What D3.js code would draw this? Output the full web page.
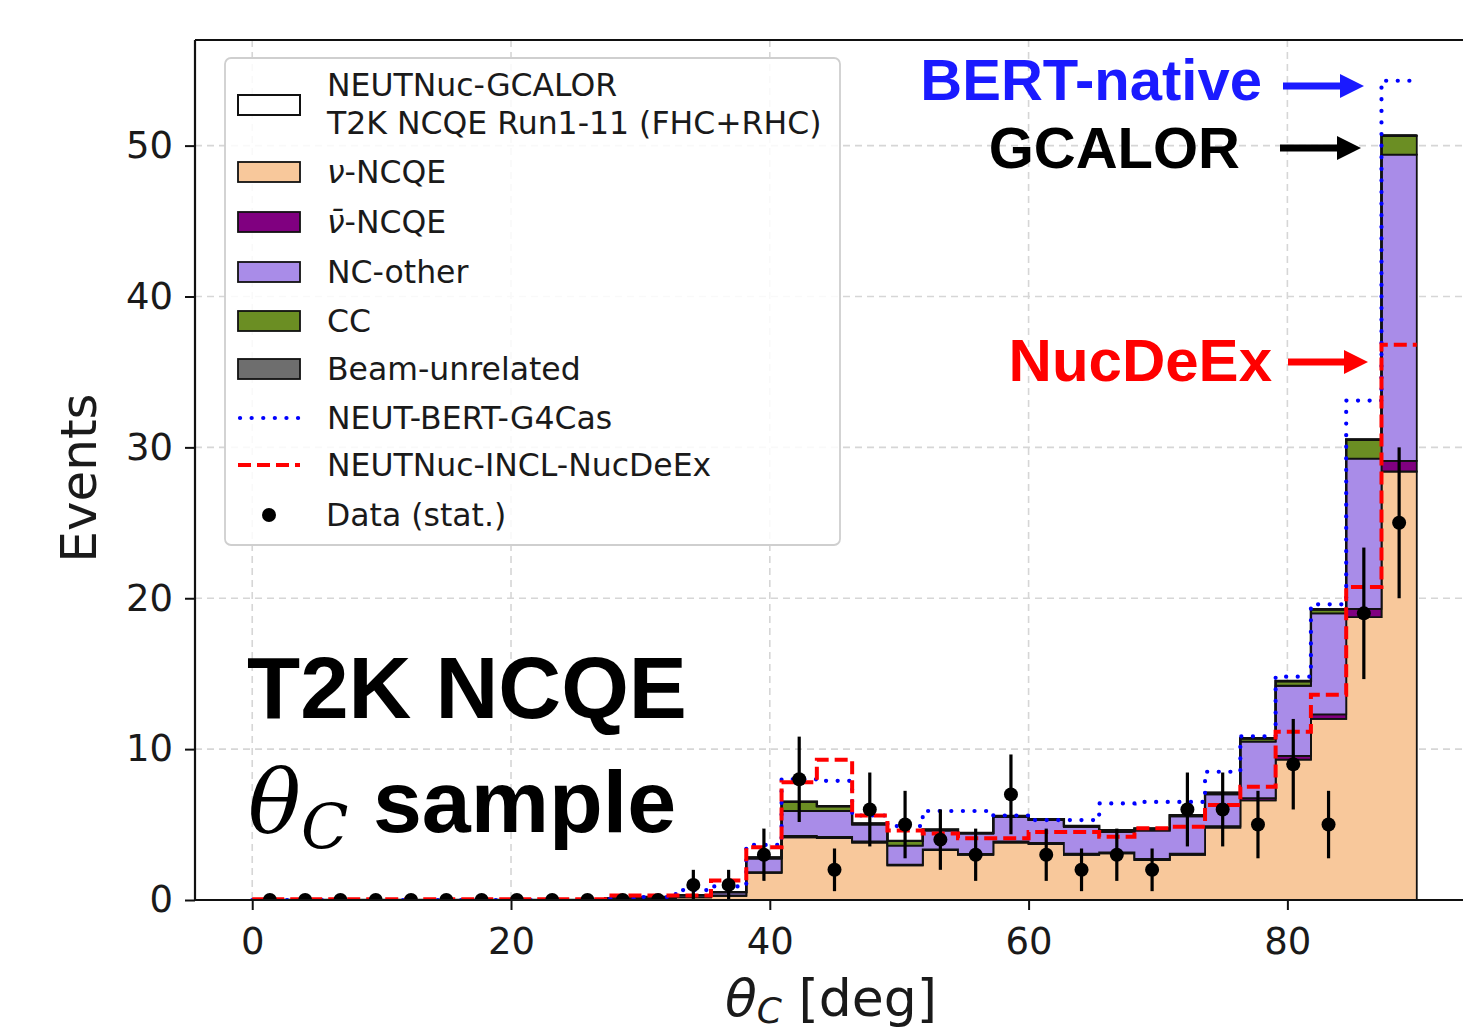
<!DOCTYPE html>
<html>
<head>
<meta charset="utf-8">
<script src="https://cdn.jsdelivr.net/npm/d3@7"></script>
<style>
body { margin: 0; background: #fff; }
text { font-family: "DejaVu Sans", sans-serif; fill: #1a1a1a; }
</style>
</head>
<body>
<div id="chart"></div>
<script>
// theta_C histogram, 33 bins over 0-90 deg
var nBins = 33, thetaMax = 90;

var dataCounts = [0,0,0,0,0,0,0,0,0,0,0,0,1,1,3,8,2,6,5,4,3,7,3,2,3,2,6,6,5,9,5,19,25];

// NEUTNuc-GCALOR stack components
var nuNCQE    = [0,0,0,0,0,0,0,0,0,0,0.05,0.1,0.18,0.28,1.8,4.15,4.1,3.8,2.3,3.3,3.0,3.8,3.7,3.0,3.1,2.65,3.0,4.8,6.6,9.3,12.0,18.75,28.4];
var nubarNCQE = [0,0,0,0,0,0,0,0,0,0,0,0,0.01,0.02,0.05,0.1,0.08,0.08,0.05,0.05,0.05,0.08,0.08,0.08,0.05,0.08,0.08,0.1,0.15,0.25,0.3,0.55,0.7];
var ncOther   = [0,0,0,0,0,0,0,0,0,0,0.05,0.1,0.13,0.2,0.9,1.65,1.72,1.12,1.25,1.25,1.35,1.62,1.52,1.77,1.35,1.87,2.47,2.1,3.75,4.65,6.7,9.95,20.3];
var ccEvents  = [0,0,0,0,0,0,0,0,0,0,0,0,0,0.02,0.05,0.6,0.3,0.05,0.3,0.05,0.03,0.05,0.03,0.03,0.1,0.12,0.05,0.1,0.2,0.3,0.25,1.25,1.25];
var beamUnrel = [0,0,0,0,0,0,0,0,0,0,0,0,0,0,0.02,0.02,0.02,0.02,0.02,0.02,0.02,0.02,0.02,0.02,0.02,0.02,0.02,0.02,0.02,0.02,0.02,0.02,0.02];

// alternative models (totals)
var bertG4Cas = [0,0,0,0,0,0,0,0,0,0,0.1,0.2,0.66,0.9,3.65,8.0,7.9,5.6,4.9,5.9,5.9,5.6,5.3,5.3,6.4,6.5,6.5,8.5,10.85,14.8,19.6,33.1,54.3];
var inclNucDeEx = [0.05,0.05,0.05,0.05,0.05,0.05,0.05,0.05,0.05,0.05,0.3,0.3,0.3,1.3,3.5,7.8,9.3,5.6,4.6,4.4,4.1,4.1,4.5,4.5,4.2,4.75,4.85,6.3,7.5,11.15,13.6,20.75,36.8];

var yTicks = [0,10,20,30,40,50];
var xTicks = [0,20,40,60,80];

var layerKeys   = ["nuNCQE","nubarNCQE","ncOther","cc","beam"];
// [math part, plain part]
var layerNames  = [["\u03bd","-NCQE"],["\u03bd\u0304","-NCQE"],["","NC-other"],["","CC"],["","Beam-unrelated"]];
var layerColors = ["#f8c89b","#800080","#a98ce8","#6b8e23","#6e6e6e"];

var W = 1463, H = 1030;
var plot = {left: 195, top: 40, right: 1476, bottom: 900};

var x = d3.scaleLinear().domain([-4.5, 94.5]).range([194, 1475]);
var y = d3.scaleLinear().domain([0, 57]).range([900, 40]);

var edges = d3.range(nBins + 1).map(function(i) { return i * thetaMax / nBins; });
var centers = d3.range(nBins).map(function(i) { return (edges[i] + edges[i + 1]) / 2; });

var svg = d3.select("#chart").append("svg")
    .attr("width", W)
    .attr("height", H);

svg.append("defs").append("clipPath")
    .attr("id", "plotclip")
    .append("rect")
    .attr("x", plot.left).attr("y", plot.top)
    .attr("width", plot.right - plot.left)
    .attr("height", plot.bottom - plot.top);

// grid
var grid = svg.append("g").attr("class", "grid");
grid.selectAll(".hgrid").data(yTicks.slice(1)).enter().append("line")
    .attr("x1", plot.left).attr("x2", W)
    .attr("y1", function(d) { return y(d); })
    .attr("y2", function(d) { return y(d); })
    .style("stroke", "#d6d6d6").style("stroke-width", 1.6)
    .style("stroke-dasharray", "7,5");
grid.selectAll(".vgrid").data(xTicks).enter().append("line")
    .attr("x1", function(d) { return x(d); })
    .attr("x2", function(d) { return x(d); })
    .attr("y1", plot.top).attr("y2", plot.bottom)
    .style("stroke", "#d6d6d6").style("stroke-width", 1.6)
    .style("stroke-dasharray", "7,5");

var rows = d3.range(nBins).map(function(i) {
    return {nuNCQE: nuNCQE[i], nubarNCQE: nubarNCQE[i], ncOther: ncOther[i],
            cc: ccEvents[i], beam: beamUnrel[i]};
});
var stacked = d3.stack().keys(layerKeys)(rows);

var area = d3.area()
    .curve(d3.curveStepAfter)
    .x(function(d) { return x(d.x); })
    .y0(function(d) { return y(d.y0); })
    .y1(function(d) { return y(d.y1); });

function stepPoints(layer) {
    var pts = layer.map(function(d, i) { return {x: edges[i], y0: d[0], y1: d[1]}; });
    var last = layer[layer.length - 1];
    pts.push({x: edges[nBins], y0: last[0], y1: last[1]});
    return pts;
}

var histG = svg.append("g").attr("clip-path", "url(#plotclip)");

histG.selectAll(".layer")
    .data(stacked)
    .enter().append("path")
    .attr("class", "layer")
    .attr("d", function(layer) { return area(stepPoints(layer)); })
    .style("fill", function(d, i) { return layerColors[i]; })
    .style("stroke", "#111")
    .style("stroke-width", 1.8)
    .style("stroke-linejoin", "miter");

var step = d3.line()
    .curve(d3.curveStepAfter)
    .x(function(d) { return x(d.x); })
    .y(function(d) { return y(d.v); });

function linePoints(vals) {
    var pts = vals.map(function(v, i) { return {x: edges[i], v: v}; });
    pts.push({x: edges[nBins], v: vals[vals.length - 1]});
    return pts;
}

// total outline
var totals = rows.map(function(r) { return r.nuNCQE + r.nubarNCQE + r.ncOther + r.cc + r.beam; });
histG.append("path")
    .attr("d", step(linePoints(totals)))
    .style("fill", "none").style("stroke", "#111").style("stroke-width", 2.4);

histG.append("path")
    .attr("d", step(linePoints(bertG4Cas)))
    .style("fill", "none").style("stroke", "#0000ff").style("stroke-width", 4.2)
    .style("stroke-linecap", "round").style("stroke-dasharray", "0.1,11.5");

histG.append("path")
    .attr("d", step(linePoints(inclNucDeEx)))
    .style("fill", "none").style("stroke", "#ff0000").style("stroke-width", 4)
    .style("stroke-dasharray", "13,6");

// data points with stat. errors
var pts = histG.selectAll(".dpt")
    .data(dataCounts)
    .enter().append("g")
    .attr("class", "dpt");
pts.append("line")
    .attr("x1", function(d, i) { return x(centers[i]); })
    .attr("x2", function(d, i) { return x(centers[i]); })
    .attr("y1", function(d) { return y(d - Math.sqrt(d)); })
    .attr("y2", function(d) { return y(d + Math.sqrt(d)); })
    .style("stroke", "#000").style("stroke-width", 3.2);
pts.append("circle")
    .attr("cx", function(d, i) { return x(centers[i]); })
    .attr("cy", function(d) { return y(d); })
    .attr("r", 7)
    .style("fill", "#000");

// axes
var yAxis = d3.axisLeft(y).tickValues(yTicks).tickSize(10).tickPadding(12);
var xAxis = d3.axisBottom(x).tickValues(xTicks).tickSize(10).tickPadding(18);

var gy = svg.append("g").attr("transform", "translate(" + plot.left + ",0)").call(yAxis);
var gx = svg.append("g").attr("transform", "translate(0," + plot.bottom + ")").call(xAxis);
[gx, gy].forEach(function(g) {
    g.select(".domain").remove();
    g.selectAll(".tick line").style("stroke", "#111").style("stroke-width", 2);
    g.selectAll(".tick text").style("font-size", "37px").style("fill", "#1a1a1a")
        .style("font-family", "'DejaVu Sans', sans-serif");
});

// spines
svg.append("line").attr("x1", plot.left).attr("x2", plot.left).attr("y1", plot.top).attr("y2", plot.bottom)
    .style("stroke", "#111").style("stroke-width", 2.2);
svg.append("line").attr("x1", plot.left).attr("x2", W).attr("y1", plot.bottom).attr("y2", plot.bottom)
    .style("stroke", "#111").style("stroke-width", 2.2);
svg.append("line").attr("x1", plot.left).attr("x2", W).attr("y1", plot.top).attr("y2", plot.top)
    .style("stroke", "#111").style("stroke-width", 2.2);

// axis labels
svg.append("text")
    .attr("transform", "translate(96,478) rotate(-90)")
    .style("text-anchor", "middle")
    .style("font-size", "50px")
    .text("Events");

var xl = svg.append("text")
    .attr("x", 725).attr("y", 1016)
    .style("font-size", "52px");
xl.append("tspan").style("font-style", "italic").text("\u03b8");
xl.append("tspan").style("font-style", "italic").style("font-size", "36px").attr("dy", 7).text("C");
xl.append("tspan").attr("dy", -7).text(" [deg]");

// legend
var lg = svg.append("g").attr("transform", "translate(225,58)");
lg.append("rect")
    .attr("width", 615).attr("height", 487)
    .attr("rx", 6).attr("ry", 6)
    .style("fill", "#fff").style("fill-opacity", 0.85)
    .style("stroke", "#cfcfcf").style("stroke-width", 1.8);

var hx = 13, hw = 62, hh = 20, tx = 102;
lg.append("rect").attr("x", hx).attr("y", 37).attr("width", hw).attr("height", hh)
    .style("fill", "#fff").style("stroke", "#111").style("stroke-width", 2);
lg.append("text").attr("x", tx).attr("y", 27).attr("dy", "0.35em").style("font-size", "31.5px").text("NEUTNuc-GCALOR");
lg.append("text").attr("x", tx).attr("y", 65).attr("dy", "0.35em").style("font-size", "31.5px").text("T2K NCQE Run1-11 (FHC+RHC)");

var rowY = [114, 164, 214, 263, 311];
layerNames.forEach(function(name, i) {
    lg.append("rect").attr("x", hx).attr("y", rowY[i] - hh / 2).attr("width", hw).attr("height", hh)
        .style("fill", layerColors[i]).style("stroke", "#111").style("stroke-width", 1.8);
    var t = lg.append("text").attr("x", tx).attr("y", rowY[i]).attr("dy", "0.35em").style("font-size", "31.5px");
    if (name[0]) t.append("tspan").style("font-style", "italic").text(name[0]);
    t.append("tspan").text(name[1]);
});

lg.append("line").attr("x1", hx + 2).attr("x2", hx + hw).attr("y1", 360).attr("y2", 360)
    .style("stroke", "#0000ff").style("stroke-width", 4.2)
    .style("stroke-linecap", "round").style("stroke-dasharray", "0.1,11.5");
lg.append("text").attr("x", tx).attr("y", 360).attr("dy", "0.35em").style("font-size", "31.5px").text("NEUT-BERT-G4Cas");

lg.append("line").attr("x1", hx).attr("x2", hx + hw).attr("y1", 407).attr("y2", 407)
    .style("stroke", "#ff0000").style("stroke-width", 4).style("stroke-dasharray", "13,6");
lg.append("text").attr("x", tx).attr("y", 407).attr("dy", "0.35em").style("font-size", "31.5px").text("NEUTNuc-INCL-NucDeEx");

lg.append("circle").attr("cx", hx + hw / 2).attr("cy", 457).attr("r", 7).style("fill", "#000");
lg.append("text").attr("x", tx - 1).attr("y", 457).attr("dy", "0.35em").style("font-size", "31.5px").text("Data (stat.)");

// sample title
svg.append("text")
    .attr("x", 247).attr("y", 718)
    .style("font-family", "'Liberation Sans', Arial, sans-serif")
    .style("font-weight", "bold").style("font-size", "87px").style("fill", "#000")
    .text("T2K NCQE");
var st = svg.append("text")
    .attr("x", 248).attr("y", 832)
    .style("font-size", "88px").style("fill", "#000");
st.append("tspan").style("font-family", "'DejaVu Serif', serif").style("font-style", "italic").text("\u03b8");
st.append("tspan").style("font-family", "'DejaVu Serif', serif").style("font-style", "italic")
    .style("font-size", "62px").attr("dy", 16).text("C");
st.append("tspan").attr("dy", -16)
    .style("font-family", "'Liberation Sans', Arial, sans-serif").style("font-weight", "bold")
    .text(" sample");

// model annotations with arrows
var notes = [
    {label: "BERT-native", color: "#1a1aff", size: 58, tx: 1262, ty: 100, ax0: 1283, ax1: 1364, ay: 86},
    {label: "GCALOR",      color: "#000",    size: 58, tx: 1240, ty: 168, ax0: 1280, ax1: 1361, ay: 148},
    {label: "NucDeEx",     color: "#ff0000", size: 60, tx: 1272, ty: 381, ax0: 1288, ax1: 1368, ay: 362}
];
notes.forEach(function(n) {
    svg.append("text")
        .attr("x", n.tx).attr("y", n.ty)
        .style("text-anchor", "end")
        .style("font-family", "'Liberation Sans', Arial, sans-serif")
        .style("font-weight", "bold").style("font-size", n.size + "px")
        .style("fill", n.color)
        .text(n.label);
    var hl = 24, hh2 = 12, sw = 3.5;
    var p = d3.path();
    p.moveTo(n.ax0, n.ay - sw);
    p.lineTo(n.ax1 - hl, n.ay - sw);
    p.lineTo(n.ax1 - hl, n.ay - hh2);
    p.lineTo(n.ax1, n.ay);
    p.lineTo(n.ax1 - hl, n.ay + hh2);
    p.lineTo(n.ax1 - hl, n.ay + sw);
    p.lineTo(n.ax0, n.ay + sw);
    p.closePath();
    svg.append("path").attr("d", p.toString()).style("fill", n.color);
});
</script>
</body>
</html>
